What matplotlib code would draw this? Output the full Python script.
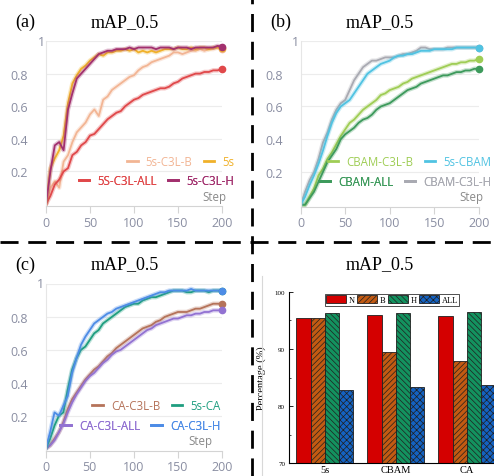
import numpy as np
import matplotlib
matplotlib.use("Agg")
import matplotlib.pyplot as plt
from matplotlib.lines import Line2D

# ----------------------------------------------------------
# DATA (one value every 5 steps)
# ----------------------------------------------------------
steps = np.arange(0, 201, 5)

# (a)
a_5s = [0.0, 0.22, 0.28, 0.33, 0.42, 0.62, 0.74, 0.79, 0.83, 0.85, 0.88, 0.90, 0.92, 0.91,
        0.93, 0.93, 0.94, 0.94, 0.95, 0.94, 0.95, 0.93, 0.94, 0.93, 0.94, 0.93, 0.94, 0.95,
        0.95, 0.95, 0.96, 0.95, 0.95, 0.96, 0.95, 0.96, 0.96, 0.95, 0.96, 0.96, 0.955]
a_h = [0.0, 0.20, 0.36, 0.38, 0.33, 0.58, 0.68, 0.77, 0.80, 0.83, 0.86, 0.89, 0.92, 0.93,
       0.94, 0.94, 0.95, 0.95, 0.95, 0.96, 0.95, 0.96, 0.96, 0.96, 0.96, 0.95, 0.96, 0.96,
       0.96, 0.95, 0.96, 0.96, 0.96, 0.95, 0.96, 0.96, 0.96, 0.96, 0.96, 0.97, 0.965]
a_b = [0.0, 0.10, 0.14, 0.10, 0.26, 0.30, 0.38, 0.44, 0.47, 0.50, 0.55, 0.58, 0.54, 0.64,
       0.66, 0.70, 0.72, 0.74, 0.76, 0.78, 0.79, 0.82, 0.84, 0.85, 0.87, 0.88, 0.89, 0.90,
       0.91, 0.93, 0.93, 0.92, 0.93, 0.94, 0.94, 0.95, 0.94, 0.95, 0.95, 0.96, 0.95]
a_all = [0.0, 0.05, 0.12, 0.15, 0.20, 0.22, 0.30, 0.32, 0.36, 0.38, 0.42, 0.43, 0.46, 0.49,
         0.52, 0.54, 0.56, 0.57, 0.60, 0.62, 0.64, 0.65, 0.67, 0.68, 0.69, 0.70, 0.71, 0.71,
         0.72, 0.74, 0.75, 0.77, 0.78, 0.79, 0.80, 0.80, 0.81, 0.81, 0.82, 0.82, 0.83]

# (b)
b_b = [0.0, 0.0, 0.05, 0.10, 0.18, 0.22, 0.28, 0.32, 0.37, 0.42, 0.46, 0.50, 0.52, 0.55,
       0.58, 0.60, 0.62, 0.64, 0.67, 0.68, 0.70, 0.71, 0.72, 0.74, 0.75, 0.77, 0.78, 0.79,
       0.80, 0.81, 0.82, 0.83, 0.84, 0.85, 0.86, 0.86, 0.87, 0.87, 0.88, 0.88, 0.89]
b_all = [0.0, 0.0, 0.04, 0.08, 0.14, 0.20, 0.26, 0.30, 0.34, 0.40, 0.43, 0.45, 0.47, 0.50,
         0.52, 0.53, 0.55, 0.58, 0.60, 0.61, 0.62, 0.64, 0.66, 0.68, 0.70, 0.71, 0.72, 0.74,
         0.75, 0.76, 0.77, 0.78, 0.79, 0.79, 0.80, 0.81, 0.81, 0.82, 0.82, 0.83, 0.83]
b_5s = [0.0, 0.05, 0.12, 0.18, 0.25, 0.33, 0.42, 0.50, 0.56, 0.60, 0.62, 0.64, 0.68, 0.72,
        0.76, 0.80, 0.82, 0.84, 0.86, 0.87, 0.88, 0.90, 0.91, 0.91, 0.92, 0.92, 0.93, 0.94,
        0.94, 0.94, 0.95, 0.95, 0.95, 0.95, 0.95, 0.96, 0.96, 0.96, 0.96, 0.96, 0.96]
b_h = [0.0, 0.08, 0.15, 0.20, 0.28, 0.38, 0.44, 0.52, 0.58, 0.62, 0.64, 0.70, 0.76, 0.80,
       0.84, 0.86, 0.88, 0.88, 0.89, 0.90, 0.90, 0.90, 0.91, 0.92, 0.92, 0.93, 0.94, 0.96,
       0.96, 0.95, 0.95, 0.95, 0.95, 0.96, 0.96, 0.96, 0.96, 0.96, 0.96, 0.96, 0.96]

# (c)
c_b = [0.0, 0.02, 0.06, 0.10, 0.16, 0.24, 0.30, 0.34, 0.38, 0.42, 0.45, 0.48, 0.50, 0.53,
       0.56, 0.58, 0.61, 0.63, 0.65, 0.67, 0.69, 0.71, 0.73, 0.74, 0.75, 0.77, 0.78, 0.80,
       0.81, 0.82, 0.83, 0.83, 0.83, 0.84, 0.85, 0.85, 0.86, 0.87, 0.88, 0.88, 0.88]
c_all = [0.0, 0.02, 0.05, 0.10, 0.15, 0.22, 0.28, 0.33, 0.37, 0.41, 0.44, 0.46, 0.49, 0.52,
         0.54, 0.57, 0.59, 0.60, 0.62, 0.64, 0.66, 0.68, 0.70, 0.72, 0.73, 0.75, 0.76, 0.77,
         0.78, 0.79, 0.79, 0.80, 0.81, 0.81, 0.82, 0.82, 0.83, 0.83, 0.84, 0.84, 0.84]
c_5s = [0.0, 0.06, 0.14, 0.20, 0.22, 0.36, 0.48, 0.55, 0.60, 0.62, 0.66, 0.70, 0.72, 0.76,
        0.78, 0.80, 0.82, 0.84, 0.86, 0.87, 0.88, 0.88, 0.90, 0.91, 0.92, 0.92, 0.93, 0.94,
        0.95, 0.96, 0.96, 0.96, 0.95, 0.95, 0.96, 0.96, 0.96, 0.95, 0.96, 0.96, 0.96]
c_h = [0.0, 0.10, 0.22, 0.20, 0.26, 0.32, 0.46, 0.55, 0.63, 0.68, 0.72, 0.76, 0.78, 0.80,
       0.82, 0.83, 0.85, 0.86, 0.87, 0.88, 0.89, 0.90, 0.91, 0.92, 0.93, 0.94, 0.95, 0.95,
       0.96, 0.96, 0.96, 0.96, 0.96, 0.97, 0.96, 0.96, 0.96, 0.96, 0.96, 0.96, 0.96]

# (d) bar chart
groups = ["5s", "CBAM", "CA"]
bar_labels = ["N", "B", "H", "ALL"]
bar_n = [95.4, 95.9, 95.8]
bar_b = [95.4, 89.4, 87.9]
bar_h = [96.2, 96.3, 96.4]
bar_all = [82.9, 83.4, 83.7]

# ----------------------------------------------------------
# STYLE
# ----------------------------------------------------------
W, H = 494, 477
SANS = "Open Sans"
SERIF = "Liberation Serif"
TICK_C = "#8a8ea2"

fig = plt.figure(figsize=(W / 100, H / 100), dpi=100)


def px_axes(x0, x1, ytop, ybot):
    return fig.add_axes([x0 / W, 1 - ybot / H, (x1 - x0) / W, (ybot - ytop) / H])


def line_panel(ax, series, rows, leg_x):
    ax.set_xlim(0, 200)
    ax.set_ylim(-0.012, 1.0)
    for s in ["top", "right"]:
        ax.spines[s].set_visible(False)
    ax.spines["left"].set_color("#e6e6e6")
    ax.spines["bottom"].set_color("#d4d4d4")
    ax.set_yticks([0.2, 0.4, 0.6, 0.8])
    ax.set_yticklabels(["0.2", "0.4", "0.6", "0.8"])
    ax.set_xticks([0, 50, 100, 150, 200])
    ax.tick_params(axis="y", length=0, pad=13, labelsize=9, labelcolor=TICK_C)
    ax.tick_params(axis="x", length=5, color="#d4d4d4", pad=2, labelsize=9, labelcolor=TICK_C)
    for lab in ax.get_xticklabels() + ax.get_yticklabels():
        lab.set_fontfamily(SANS)
    for yv in [0.2, 0.4, 0.6, 0.8, 1.0]:
        ax.axhline(yv, color="#ececec", lw=0.8, zorder=0)
    ax.text(-0.008, 1.0, "1", transform=ax.get_yaxis_transform(), ha="right", va="center",
            fontsize=9, color=TICK_C, family=SANS)

    handles = {}
    for name, vals, col in series:
        ax.plot(steps, vals, color=col, lw=3.2, alpha=0.3, solid_capstyle="round")
        ln, = ax.plot(steps, vals, color=col, lw=1.3, label=name)
        ax.plot([steps[-1]], [vals[-1]], "o", color=col, ms=4.5, clip_on=False, zorder=5)
        handles[name] = ln

    ys = [0.27, 0.153]
    for row, yy in zip(rows, ys):
        leg = ax.legend([handles[n] for n in row], row, ncol=len(row), loc="center right",
                        bbox_to_anchor=(leg_x, yy), frameon=False,
                        prop={"family": SANS, "size": 8.3}, handlelength=0.9,
                        handletextpad=0.7, columnspacing=1.0, labelcolor="linecolor",
                        borderpad=0, borderaxespad=0)
        for h in leg.legend_handles:
            h.set_linewidth(2)
        ax.add_artist(leg)
    ax.text(leg_x - 0.045, 0.06, "Step", transform=ax.transAxes, ha="right", va="center",
            fontsize=8.3, color="#8a8a8a", family=SANS)


# (a)
ax1 = px_axes(46, 222, 42, 207)
line_panel(ax1, [("5s-C3L-B", a_b, "#f2b594"),
                 ("5S-C3L-ALL", a_all, "#e0484a"),
                 ("5s", a_5s, "#f0b12a"),
                 ("5s-C3L-H", a_h, "#a2306e")],
           [["5s-C3L-B", "5s"], ["5S-C3L-ALL", "5s-C3L-H"]], 1.07)

# (b)
ax2 = px_axes(300.7, 478.7, 42, 207.7)
line_panel(ax2, [("CBAM-C3L-B", b_b, "#9fcd55"),
                 ("CBAM-ALL", b_all, "#3d9a5c"),
                 ("CBAM-C3L-H", b_h, "#a9aab2"),
                 ("5s-CBAM", b_5s, "#50c3e2")],
           [["CBAM-C3L-B", "5s-CBAM"], ["CBAM-ALL", "CBAM-C3L-H"]], 1.07)

# (c)
ax3 = px_axes(45.7, 222, 285, 451.6)
line_panel(ax3, [("CA-C3L-B", c_b, "#b5735a"),
                 ("CA-C3L-ALL", c_all, "#9272d2"),
                 ("5s-CA", c_5s, "#1f9e80"),
                 ("CA-C3L-H", c_h, "#4d8ce6")],
           [["CA-C3L-B", "5s-CA"], ["CA-C3L-ALL", "CA-C3L-H"]], 0.99)

# (d)
plt.rcParams["hatch.linewidth"] = 0.5
ax4 = px_axes(289.3, 502.3, 292.7, 464.3)
x = np.arange(1, len(groups) + 1)
bw = 0.2
for i, (vals, col, hatch) in enumerate(zip([bar_n, bar_b, bar_h, bar_all],
                                           ["#d40000", "#c25a12", "#13925f", "#1462c2"],
                                           ["", "//////", "\\\\\\\\\\\\", "xxxxx"])):
    ax4.bar(x + (i - 1.5) * bw, vals, bw, color=col, hatch=hatch, edgecolor="#202020",
            lw=0.6, label=bar_labels[i])
ax4.set_xlim(0.5, 3.5)
ax4.set_ylim(70, 100)
ax4.spines["top"].set_visible(False)
ax4.spines["right"].set_visible(False)
for s in ["left", "bottom"]:
    ax4.spines[s].set_linewidth(0.8)
ax4.set_yticks([70, 80, 90, 100])
ax4.set_yticks([75, 85, 95], minor=True)
ax4.tick_params(axis="y", which="major", direction="in", length=3, width=0.6, pad=3,
                labelsize=5)
ax4.tick_params(axis="y", which="minor", direction="in", length=1.5, width=0.5)
ax4.set_xticks(x)
ax4.set_xticklabels(groups)
ax4.tick_params(axis="x", length=0, pad=1.5, labelsize=7.5)
for lab in ax4.get_xticklabels() + ax4.get_yticklabels():
    lab.set_fontfamily(SERIF)
ax4.set_ylabel("Percentage (%)", family=SERIF, fontsize=7.5, labelpad=6)
ax4.legend(ncol=4, loc="center", bbox_to_anchor=(0.482, 0.954),
           prop={"family": SERIF, "size": 6}, frameon=True, fancybox=False,
           edgecolor="black", handlelength=2.4, handleheight=1.0, handletextpad=0.3,
           columnspacing=0.3, borderpad=0.2, borderaxespad=0).get_frame().set_linewidth(0.6)

# ----------------------------------------------------------
# TITLES AND DIVIDERS
# ----------------------------------------------------------
for lbl, lx, tx, ty in [("(a)", 15, 125, 22.5), ("(b)", 270, 379.5, 22.5),
                        ("(c)", 15, 125, 265), (None, None, 380, 265)]:
    if lbl:
        fig.text(lx / W, 1 - ty / H, lbl, ha="left", va="center", family=SERIF, fontsize=13)
    fig.text(tx / W, 1 - ty / H, "mAP_0.5", ha="center", va="center", family=SERIF,
             fontsize=13)

fig.add_artist(Line2D([262 / W, 262 / W], [0, 1 - 277 / H], color="#d8d8d8", lw=0.8))
fig.add_artist(Line2D([252 / W, 252 / W], [0, 1], color="black", lw=2,
                      linestyle=(0, (6.5, 3.5))))
fig.add_artist(Line2D([0, 1], [1 - 243 / H, 1 - 243 / H], color="black", lw=2,
                      linestyle=(0, (6.5, 3.5))))

fig.savefig("out.png", dpi=100)
